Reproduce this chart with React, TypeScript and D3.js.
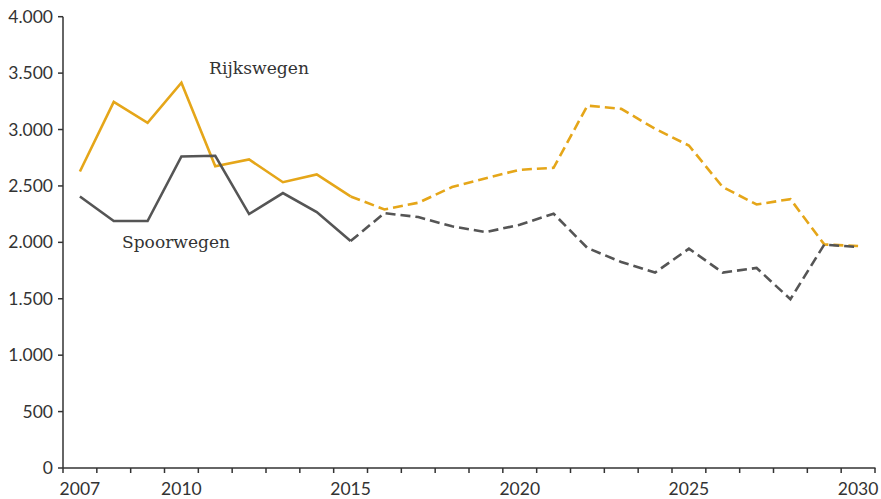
import React from "react";
import * as d3 from "d3";

const years = d3.range(2007, 2031);
const rijkswegen = [2628, 3245, 3060, 3415, 2675, 2735, 2533, 2602, 2407, 2292, 2351, 2490, 2569, 2643, 2661, 3212, 3183, 3006, 2858, 2490, 2336, 2383, 1982, 1967];
const spoorwegen = [2407, 2189, 2189, 2761, 2767, 2251, 2437, 2268, 2012, 2259, 2224, 2142, 2091, 2156, 2254, 1950, 1826, 1732, 1944, 1732, 1773, 1496, 1980, 1958];
const splitYear = 2015;
const yTicks = [0, 500, 1000, 1500, 2000, 2500, 3000, 3500, 4000];
const xLabels = [2007, 2010, 2015, 2020, 2025, 2030];

const W = 881, H = 499;
const left = 63, right = 875, top = 16.7, bottom = 468;

export default function App() {
  const x = d3.scaleBand<number>().domain(years).range([left, right]);
  const cx = (yr: number) => (x(yr) as number) + x.bandwidth() / 2;
  const y = d3.scaleLinear().domain([0, 4000]).range([bottom, top]);
  const fmt = (v: number) => d3.format(",")(v).replace(/,/g, ".");
  const line = d3.line<[number, number]>().x(d => cx(d[0])).y(d => y(d[1]));

  const series = [
    { vals: rijkswegen, color: "#E5A619" },
    { vals: spoorwegen, color: "#555555" },
  ];
  const tickEdges = d3.range(years.length + 1).map(i => left + i * x.step());

  return (
    <svg width={W} height={H} style={{ position: "absolute", left: 0, top: 0, background: "#fff" }}>
      {series.map((s, i) => {
        const pts: [number, number][] = years.map((yr, j) => [yr, s.vals[j]]);
        const solid = pts.filter(p => p[0] <= splitYear);
        const dashed = pts.filter(p => p[0] >= splitYear);
        return (
          <g key={i} fill="none" stroke={s.color} strokeWidth={2.6} strokeLinejoin="miter">
            <path d={line(solid) || ""} />
            <path d={line(dashed) || ""} strokeDasharray="10,5" />
          </g>
        );
      })}
      <g stroke="#333" strokeWidth={1.5}>
        <line x1={left} x2={left} y1={top} y2={bottom} />
        <line x1={left} x2={right + 0.5} y1={bottom} y2={bottom} />
        {yTicks.map(t => <line key={t} x1={left - 5} x2={left} y1={y(t)} y2={y(t)} />)}
        {tickEdges.map((e, i) => <line key={i} x1={e} x2={e} y1={bottom} y2={bottom + 5} />)}
      </g>
      <g fontFamily="Lato, 'Open Sans', sans-serif" fontSize={17.5} fill="#333">
        {yTicks.map(t => (
          <text key={t} x={53} y={y(t)} dy="0.35em" textAnchor="end">{fmt(t)}</text>
        ))}
        {xLabels.map(t => (
          <text key={t} x={cx(t)} y={495} textAnchor="middle">{t}</text>
        ))}
      </g>
      <g fontFamily="'DejaVu Serif', serif" fontSize={17.5} fill="#333">
        <text x={209} y={74} textLength={100} lengthAdjust="spacingAndGlyphs">Rijkswegen</text>
        <text x={122} y={248} textLength={108} lengthAdjust="spacingAndGlyphs">Spoorwegen</text>
      </g>
    </svg>
  );
}
